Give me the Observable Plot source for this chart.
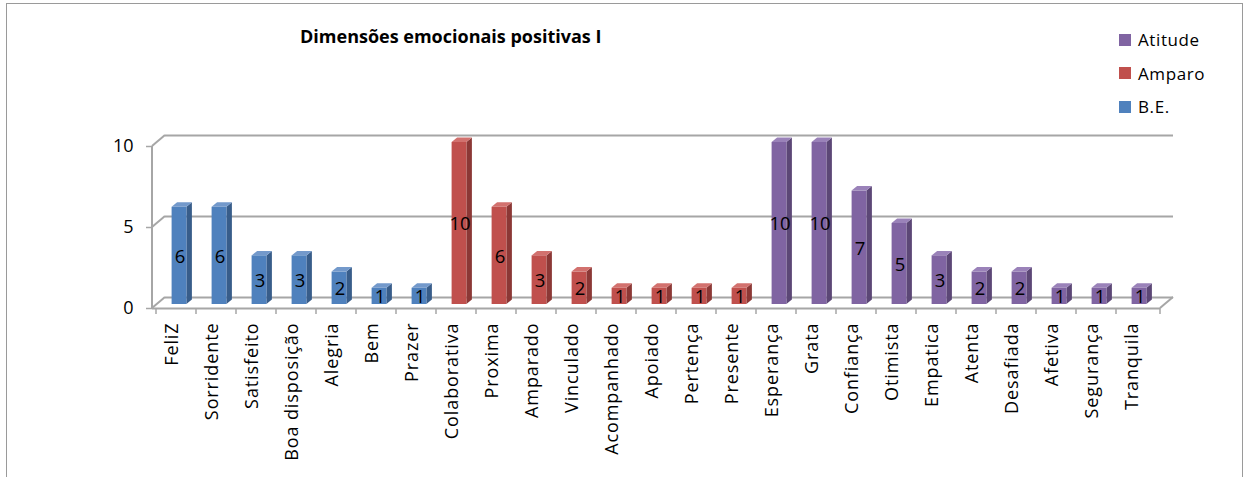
<!DOCTYPE html>
<html>
<head>
<meta charset="utf-8">
<script src="https://cdn.jsdelivr.net/npm/d3@7"></script>
<script src="https://cdn.jsdelivr.net/npm/@observablehq/plot@0.6"></script>
<style>
  html, body { margin: 0; padding: 0; background: #fff; overflow: hidden; }
  #wrap { position: relative; width: 1247px; height: 477px; font-family: "Open Sans", sans-serif; }
  #frame { position: absolute; left: 6px; top: 3px; width: 1237px; height: 540px; border: 1.5px solid #9a9a9a; box-sizing: border-box; }
  #chart { position: absolute; left: 0; top: 0; }
  #chart svg .xl text, #chart svg text.xl { letter-spacing: 0.9px; }
  #title { position: absolute; left: 300px; top: 24px; font-size: 18px; font-weight: bold; color: #000; white-space: nowrap; letter-spacing: 0px; }
  #legend { position: absolute; left: 1119px; top: 23px; }
  .li { display: flex; align-items: center; height: 33.5px; font-size: 17px; letter-spacing: 0.6px; color: #000; }
  .sw { width: 12px; height: 12px; margin-right: 7px; }
</style>
</head>
<body>
<div id="wrap">
  <div id="frame"></div>
  <div id="chart"></div>
  <div id="title">Dimensões emocionais positivas I</div>
  <div id="legend"></div>
</div>
<script>
// ---- data ----
const beCats = ["FeliZ", "Sorridente", "Satisfeito", "Boa disposição", "Alegria", "Bem", "Prazer"];
const beValues = [6, 6, 3, 3, 2, 1, 1];
const amparoCats = ["Colaborativa", "Proxima", "Amparado", "Vinculado", "Acompanhado", "Apoiado", "Pertença", "Presente"];
const amparoValues = [10, 6, 3, 2, 1, 1, 1, 1];
const atitudeCats = ["Esperança", "Grata", "Confiança", "Otimista", "Empatica", "Atenta", "Desafiada", "Afetiva", "Segurança", "Tranquila"];
const atitudeValues = [10, 10, 7, 5, 3, 2, 2, 1, 1, 1];
const seriesNames = ["B.E.", "Amparo", "Atitude"];
const legendOrder = ["Atitude", "Amparo", "B.E."];
const yTicks = [0, 5, 10];

// ---- styles ----
const front = {"B.E.": "#4f81bd", "Amparo": "#c0504d", "Atitude": "#8064a2"};
const side  = {"B.E.": "#385d8a", "Amparo": "#8c3836", "Atitude": "#5c4776"};
const top_  = {"B.E.": "#7399cb", "Amparo": "#d2716e", "Atitude": "#9a82b9"};

const data = [
  ...beCats.map((c, i) => ({cat: c, value: beValues[i], series: "B.E."})),
  ...amparoCats.map((c, i) => ({cat: c, value: amparoValues[i], series: "Amparo"})),
  ...atitudeCats.map((c, i) => ({cat: c, value: atitudeValues[i], series: "Atitude"}))
];
const cats = data.map(d => d.cat);

// depth offsets of the pseudo-3D frame
const FRONT_DY = 4, BACK_DX = 13, BACK_DY = -7, GRID = "#a6a6a6";

function walls(index, scales) {
  const x = scales.x, y = scales.y;
  const [x0, x1] = x.range();
  const g = d3.create("svg:g").attr("fill", "none").attr("stroke", GRID).attr("stroke-width", 2);
  g.append("line").attr("x1", x0).attr("x2", x0)
    .attr("y1", y(d3.max(yTicks)) + FRONT_DY).attr("y2", y(0) + FRONT_DY);
  for (const t of yTicks) {
    g.append("line").attr("x1", x0).attr("y1", y(t) + FRONT_DY)
      .attr("x2", x0 + BACK_DX).attr("y2", y(t) + BACK_DY);
  }
  g.append("line").attr("x1", x1).attr("y1", y(0) + FRONT_DY)
    .attr("x2", x1 + BACK_DX).attr("y2", y(0) + BACK_DY);
  for (let i = 0; i <= cats.length; i++) {
    const xx = i < cats.length ? x(cats[i]) : x1;
    g.append("line").attr("x1", xx).attr("x2", xx)
      .attr("y1", y(0) + FRONT_DY).attr("y2", y(0) + FRONT_DY + 6).attr("stroke-width", 1.5);
  }
  return g.node();
}

function prisms(index, scales) {
  const x = scales.x, y = scales.y;
  const bw = typeof x.bandwidth === "function" ? x.bandwidth() : x.bandwidth;
  const g = d3.create("svg:g");
  const ddx = 5.5, ddy = 4.5;
  for (const d of data) {
    const xa = x(d.cat) + bw * 0.39, w = bw * 0.37;
    const yt = y(d.value), yb = y(0);
    g.append("path")
      .attr("d", `M${xa + w},${yb}L${xa + w + ddx},${yb - ddy}L${xa + w + ddx},${yt - ddy}L${xa + w},${yt}Z`)
      .attr("fill", side[d.series]);
    g.append("path")
      .attr("d", `M${xa},${yt}L${xa + ddx},${yt - ddy}L${xa + w + ddx},${yt - ddy}L${xa + w},${yt}Z`)
      .attr("fill", top_[d.series]);
    g.append("rect").attr("x", xa).attr("y", yt).attr("width", w).attr("height", yb - yt)
      .attr("fill", front[d.series]);
  }
  return g.node();
}

const chart = Plot.plot({
  width: 1247,
  height: 477,
  marginLeft: 152,
  marginRight: 87,
  marginTop: 142,
  marginBottom: 173,
  style: {background: "transparent", fontFamily: "Open Sans, sans-serif", color: "#000", overflow: "visible"},
  x: {type: "band", domain: cats, padding: 0, axis: null},
  y: {domain: [0, 10], axis: null},
  marks: [
    Plot.ruleY(yTicks, {dx: BACK_DX, dy: BACK_DY, stroke: GRID, strokeWidth: 2}),
    Plot.ruleY([0], {dy: FRONT_DY, stroke: GRID, strokeWidth: 2}),
    walls,
    Plot.axisY({ticks: yTicks, tickSize: 6, tickPadding: 13, dy: FRONT_DY, fontSize: 18, stroke: GRID, strokeWidth: 1.5, label: null, tickFormat: d3.format("d")}),
    prisms,
    Plot.text(data, {x: "cat", y: d => d.value / 2, text: d => String(d.value), dx: 3.5, dy: 1, fontSize: 18.5, fill: "#000"}),
    Plot.text(data, {x: "cat", frameAnchor: "bottom", text: "cat", rotate: -90, textAnchor: "end", dy: 18, dx: 1, fontSize: 18, fill: "#000", className: "xl"})
  ]
});
document.getElementById("chart").appendChild(chart);

const legend = document.getElementById("legend");
for (const s of legendOrder) {
  const row = document.createElement("div");
  row.className = "li";
  const sw = document.createElement("div");
  sw.className = "sw";
  sw.style.background = front[s];
  const t = document.createElement("span");
  t.textContent = s;
  row.appendChild(sw);
  row.appendChild(t);
  legend.appendChild(row);
}
</script>
</body>
</html>
